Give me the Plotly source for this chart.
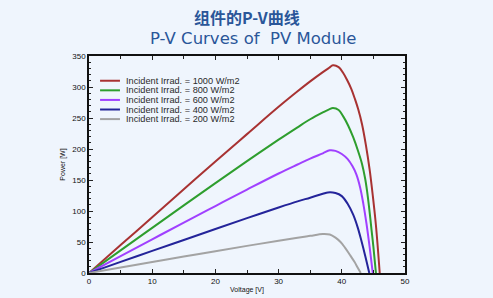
import plotly.graph_objects as go

# Data (Voltage [V], Power [W])
v_1000 = [0, 5, 10, 15, 20, 25, 30, 33, 35, 37, 38, 38.6, 39.5, 40.2, 40.8, 41.5, 42.1, 42.6, 43.2, 43.8, 44.4, 44.9, 45.4, 46.0]
p_1000 = [0, 45, 90, 135, 180, 224, 268, 293, 309, 324, 331, 335, 332, 323, 312, 297, 280, 264, 240, 207, 167, 125, 77, 0]

v_800 = [0, 5, 10, 15, 20, 25, 30, 33, 35, 37, 38, 38.6, 39.5, 40.2, 41.0, 41.8, 42.6, 43.2, 43.7, 44.0, 44.35, 44.7, 45.0, 45.4]
p_800 = [0, 36.5, 72.8, 109, 145, 180.5, 215, 235, 248, 259, 264, 266, 263, 253, 238, 219, 196, 176, 152, 132, 103, 70, 42, 0]

v_600 = [0, 5, 10, 15, 20, 25, 30, 33, 35, 37, 38.1, 39, 40, 40.9, 41.7, 42.3, 42.9, 43.4, 43.9, 44.4, 44.9]
p_600 = [0, 27.2, 54.3, 81.3, 108, 134.5, 160.5, 175, 184.5, 193, 198, 197, 192, 184, 172, 159, 138, 112, 80, 42, 0]

v_400 = [0, 5, 10, 15, 20, 25, 30, 33, 35, 37, 37.8, 39, 40, 40.9, 41.8, 42.5, 43.1, 43.7, 44.35]
p_400 = [0, 17.9, 35.7, 53.3, 71, 88.5, 105.6, 115.5, 121.5, 127.7, 130, 129, 124, 112, 94, 74, 52, 28, 0]

v_200 = [0, 5, 10, 15, 20, 25, 30, 33, 35, 37, 38.1, 39, 39.8, 40.5, 41.3, 42.0, 42.5, 43.0]
p_200 = [0, 8.9, 17.75, 26.5, 35.2, 43.75, 51.9, 56.8, 59.9, 62.9, 62, 57, 50, 41, 29, 18, 9, 0]

series_names = [
    "Incident Irrad. = 1000 W/m2",
    "Incident Irrad. = 800 W/m2",
    "Incident Irrad. = 600 W/m2",
    "Incident Irrad. = 400 W/m2",
    "Incident Irrad. = 200 W/m2",
]
series_colors = ["#A83232", "#2E9E2E", "#A040FF", "#24249A", "#A3A3A3"]
series_v = [v_1000, v_800, v_600, v_400, v_200]
series_p = [p_1000, p_800, p_600, p_400, p_200]

title_cn = "组件的P-V曲线"
title_en = "P-V Curves of  PV Module"
x_title = "Voltage [V]"
y_title = "Power [W]"

bg = "#EFF5FD"
font_ax = "Liberation Sans, Arial"
fig = go.Figure()
for name, col, v, p in zip(series_names, series_colors, series_v, series_p):
    fig.add_trace(go.Scatter(x=v, y=p, mode="lines", name=name, showlegend=False,
                             line=dict(color=col, width=2, shape="spline", smoothing=1.0)))

axis_common = dict(
    showgrid=False, zeroline=False, showline=True, linecolor="#111", linewidth=1.5,
    mirror="ticks", ticks="inside", tickcolor="#222", tickwidth=1, automargin=False,
    tickfont=dict(family=font_ax, size=8, color="#111"),
)
fig.update_xaxes(range=[0, 50], dtick=10, ticklen=4,
                 minor=dict(dtick=5, ticks="inside", ticklen=3, tickcolor="#222"),
                 title=dict(text=x_title, font=dict(family=font_ax, size=7, color="#111"), standoff=2),
                 **axis_common)
fig.update_yaxes(range=[0, 350], dtick=50, ticklen=4,
                 minor=dict(dtick=10, ticks="inside", ticklen=2, tickcolor="#222"),
                 title=dict(text=y_title, font=dict(family=font_ax, size=7, color="#111"), standoff=6),
                 **axis_common)

# Manual compact legend (top-left, inside plot)
shapes = []
annotations = []
leg_y0 = 0.886
leg_dy = 0.0442
for i, (name, col) in enumerate(zip(series_names, series_colors)):
    yy = leg_y0 - i * leg_dy
    shapes.append(dict(type="line", xref="paper", yref="paper", x0=0.035, x1=0.098, y0=yy, y1=yy,
                       line=dict(color=col, width=2)))
    annotations.append(dict(text=name, xref="paper", yref="paper", x=0.111, y=yy, xanchor="left",
                            yanchor="middle", showarrow=False,
                            font=dict(family=font_ax, size=9.2, color="#2a2a2a")))

annotations += [
    dict(text="<b>" + title_cn + "</b>", xref="paper", yref="paper", x=0.5, y=1, yshift=39, showarrow=False,
         font=dict(family="Noto Sans CJK SC", size=16, color="#2A5699"), xanchor="center", yanchor="middle"),
    dict(text=title_en, xref="paper", yref="paper", x=0.5, y=1, xshift=6, yshift=18, showarrow=False,
         font=dict(family="DejaVu Sans", size=16.5, color="#2A5699"), xanchor="center", yanchor="middle"),
]

fig.update_layout(
    width=493, height=298,
    margin=dict(l=89, r=88, t=56, b=25),
    paper_bgcolor=bg, plot_bgcolor=bg,
    showlegend=False,
    shapes=shapes,
    annotations=annotations,
)
fig.write_html("out.html", config={"displayModeBar": False},
               post_script="document.body.style.margin='0';document.body.style.background='" + bg + "';")
